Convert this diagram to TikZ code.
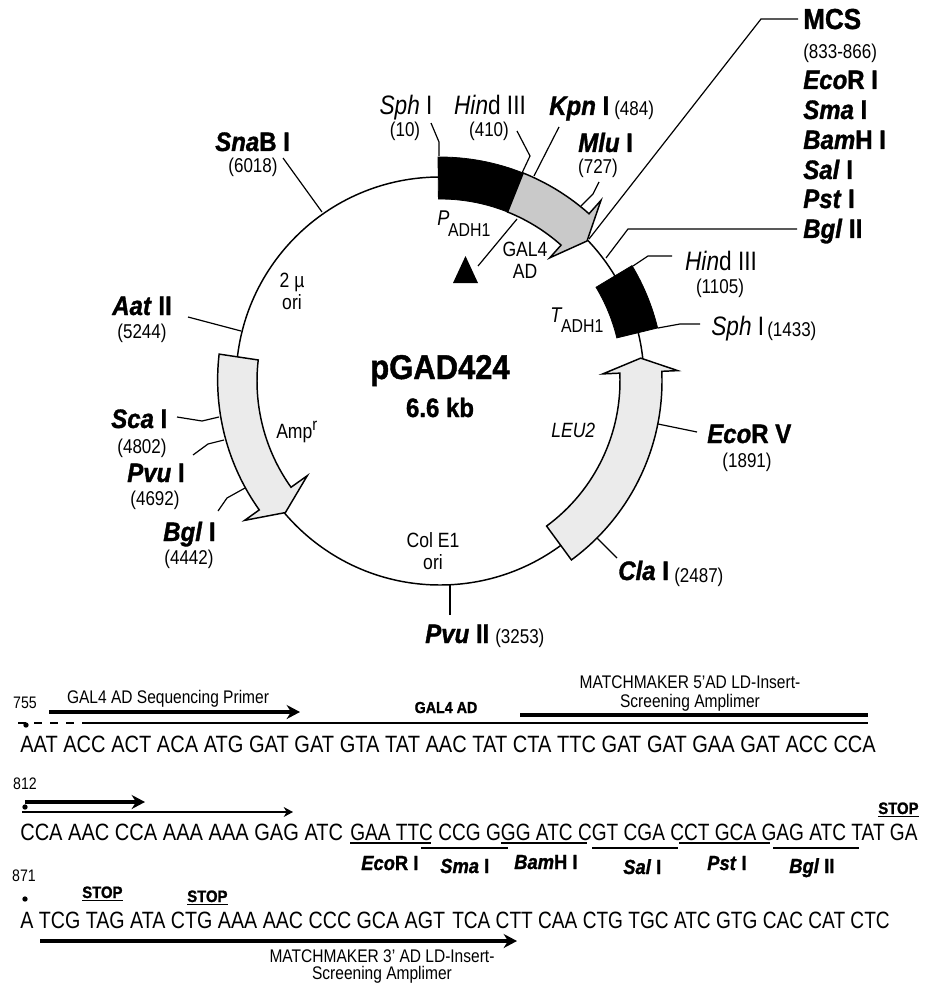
\documentclass[tikz,border=0pt]{standalone}
\usepackage{fontspec}
\setmainfont[FakeStretch=0.85,
  BoldFeatures={FakeStretch=0.9,FakeBold=1.2},
  BoldItalicFeatures={FakeStretch=0.9,FakeBold=1.2}]{Liberation Sans}
\usetikzlibrary{arrows.meta}
\definecolor{GalF}{HTML}{C9C9C9}
\definecolor{MarkF}{HTML}{EBEBEB}
\newcommand{\Ren}[2]{\textit{#1}#2}
\newcommand{\Drop}[2]{\kern-1pt\raisebox{#1}{\fontsize{14}{16}\selectfont #2}}
\tikzset{
  ring/.style={line width=1.1pt, draw=black},
  marker/.style={draw=black, fill=MarkF, line width=1.1pt, line join=miter},
  solidbk/.style={draw=black, fill=black, line width=0.6pt},
  leader/.style={line width=0.9pt, draw=black},
  site/.style={font=\fontsize{20}{22}\selectfont\bfseries, anchor=base west, inner sep=0pt},
  sitethin/.style={font=\fontsize{20}{22}\selectfont, anchor=base, inner sep=0pt},
  bpnum/.style={font=\fontsize{15}{17}\selectfont, anchor=base, inner sep=0pt},
  gene/.style={font=\fontsize{15.5}{17}\selectfont, anchor=base, inner sep=0pt},
  seq/.style={font=\fontsize{17.7}{20}\selectfont, anchor=base west, inner sep=0pt},
  cut/.style={font=\fontsize{15.3}{17}\selectfont\bfseries, anchor=base west, inner sep=0pt},
  stopm/.style={font=\fontsize{12.4}{14}\selectfont\bfseries, anchor=base west, inner sep=0pt},
  note/.style={font=\fontsize{13.7}{16}\selectfont, anchor=base, inner sep=0pt},
  bigarr/.style={-{Stealth[length=10pt,width=10.5pt]}, line width=2.3pt},
  thinarr/.style={-{Stealth[length=7pt,width=7.5pt]}, line width=0.9pt},
  dot/.style={circle, fill=black, minimum size=4pt, inner sep=0pt},
}
\begin{document}
\begin{tikzpicture}[x=0.75pt,y=-0.75pt]
  \useasboundingbox (0,0) rectangle (927,984);

  % ring and its markers
  \begin{scope}[shift={(440,381)},y=0.75pt]
    \draw[ring] (0,0) circle[radius=204];
    \draw[solidbk] (90.5:182) arc[start angle=90.5,end angle=68.2,radius=182]
      -- (68.2:224) arc[start angle=68.2,end angle=90.5,radius=224] -- cycle;
    \draw[ring,fill=GalF] (68.2:182) arc[start angle=68.2,end angle=48.3,radius=182]
      -- (48.3:165) -- (43.6:203) -- (48.3:242) -- (48.3:224)
      arc[start angle=48.3,end angle=68.2,radius=224] -- cycle;
    \draw[solidbk] (31:182) arc[start angle=31,end angle=13.7,radius=182]
      -- (13.7:224) arc[start angle=13.7,end angle=31,radius=224] -- cycle;
    \draw[marker] (-53.7:180) arc[start angle=-53.7,end angle=2.5,radius=180]
      -- (2.5:163) -- (6.5:202) -- (2.5:238) -- (2.5:222)
      arc[start angle=2.5,end angle=-53.7,radius=222] -- cycle;
    \draw[marker] (173.4:183) arc[start angle=173.4,end angle=215.5,radius=183]
      -- (215.5:163) -- (220.4:203) -- (215.5:240) -- (215.5:222)
      arc[start angle=215.5,end angle=173.4,radius=224] -- cycle;
  \end{scope}

  % leader ends
  \foreach \nm/\px/\py in {
      SphA/431/123, SphB/439/156, HinA/517/131, HinB/522/173, KpnA/559/127, KpnB/534/176,
      TriA/478/266, TriB/517/219, MluA/599/182, MluB/581/206, McsA/798/19, McsB/589/239,
      BglA/797/229, BglB/606/258, HinC/672/256, HinD/633/266, SphC/700/324, SphD/658/328,
      SnaA/283/158, SnaB/322/212, AatA/188/317, AatB/241/331, ScaA/177/417, ScaB/219/417,
      PvuA/193/455, PvuB/224/440, BglC/218/511, BglD/245/488, EcoA/697/432, EcoB/658/424,
      ClaA/617/558, ClaB/597/538, PvuC/450/615, PvuD/450/584}
    \coordinate (\nm) at (\px,\py);

  \draw[leader] (SphA) -- (439,142) -- (SphB);
  \draw[leader] (HinA) -- (530,156) -- (HinB);
  \draw[leader] (KpnA) -- (KpnB);
  \draw[leader] (TriA) -- (TriB);
  \draw[leader] (MluA) -- (593,194) -- (MluB);
  \draw[leader] (McsA) -- (761,19) -- (McsB);
  \draw[leader] (BglA) -- (628,229) -- (BglB);
  \draw[leader] (HinC) -- (648,256) -- (HinD);
  \draw[leader] (SphC) -- (680,324) -- (SphD);
  \draw[leader] (SnaA) -- (SnaB);
  \draw[leader] (AatA) -- (AatB);
  \draw[leader] (ScaA) -- (202,421) -- (ScaB);
  \draw[leader] (PvuA) -- (208,444) -- (PvuB);
  \draw[leader] (BglC) -- (227,498) -- (BglD);
  \draw[leader] (EcoA) -- (EcoB);
  \draw[leader] (ClaA) -- (ClaB);
  \draw[leader] (PvuC) -- (PvuD);

  \fill (465.5,256) coordinate (TriTop) -- (453,283) -- (478,283) -- cycle;

  % labels round the ring
  \node[sitethin] (SphI) at (406,115) {\Ren{Sph}{ I}};
  \node[bpnum] (SphIp) at (405,137) {(10)};
  \node[sitethin] (HinIII) at (490,115) {\Ren{Hin}{d III}};
  \node[bpnum] (HinIIIp) at (489,137) {(410)};
  \node[site] (KpnI) at (549,115) {\Ren{Kpn}{ I}};
  \node[bpnum,anchor=base west] (KpnIp) at (614,116) {(484)};
  \node[site] (MluI) at (578,152) {\Ren{Mlu}{ I}};
  \node[bpnum] (MluIp) at (598,174) {(727)};
  \node[site,font=\fontsize{21.7}{24}\selectfont\bfseries] (MCS) at (803,29) {MCS};
  \node[bpnum,anchor=base west] (MCSp) at (803,59) {(833-866)};
  \node[site] (EcoRI) at (803,89) {\Ren{Eco}{R I}};
  \node[site] (SmaI) at (803,119) {\Ren{Sma}{ I}};
  \node[site] (BamHI) at (803,149) {\Ren{Bam}{H I}};
  \node[site] (SalI) at (803,179) {\Ren{Sal}{ I}};
  \node[site] (PstI) at (803,208) {\Ren{Pst}{ I}};
  \node[site] (BglII) at (803,238) {\Ren{Bgl}{ II}};
  \node[sitethin] (HinIIIb) at (721,270) {\Ren{Hin}{d III}};
  \node[bpnum] (HinIIIbp) at (720,293) {(1105)};
  \node[sitethin,anchor=base west] (SphIb) at (711,335) {\Ren{Sph}{ I}};
  \node[bpnum,anchor=base west] (SphIbp) at (767,336) {(1433)};
  \node[site] (SnaBI) at (215,151) {\Ren{Sna}{B I}};
  \node[bpnum] (SnaBIp) at (253,173) {(6018)};
  \node[site] (AatII) at (112,315) {\Ren{Aat}{ II}};
  \node[bpnum] (AatIIp) at (142,338) {(5244)};
  \node[site] (ScaI) at (111,428) {\Ren{Sca}{ I}};
  \node[bpnum] (ScaIp) at (142,453) {(4802)};
  \node[site] (PvuI) at (127,482) {\Ren{Pvu}{ I}};
  \node[bpnum] (PvuIp) at (155,505) {(4692)};
  \node[site] (BglI) at (163,541) {\Ren{Bgl}{ I}};
  \node[bpnum] (BglIp) at (189,564) {(4442)};
  \node[site] (EcoRV) at (707,443) {\Ren{Eco}{R V}};
  \node[bpnum] (EcoRVp) at (747,467) {(1891)};
  \node[site] (ClaI) at (618,580) {\Ren{Cla}{ I}};
  \node[bpnum,anchor=base west] (ClaIp) at (674,582) {(2487)};
  \node[site] (PvuII) at (425,643) {\Ren{Pvu}{ II}};
  \node[bpnum,anchor=base west] (PvuIIp) at (495,643) {(3253)};

  \node[gene,font=\fontsize{16}{18}\selectfont,anchor=base west] (PADH) at (437,225) {\textit{P}\Drop{-9pt}{ADH1}};
  \node[gene] (GALa) at (525,257) {GAL4};
  \node[gene] (GALb) at (525,278) {AD};
  \node[gene,font=\fontsize{16}{18}\selectfont,anchor=base west] (TADH) at (550,322) {\textit{T}\Drop{-8pt}{ADH1}};
  \node[gene] (TwoMu) at (292,287) {2 µ};
  \node[gene] (TwoOri) at (292,309) {ori};
  \node[gene,anchor=base west] (Amp) at (276,438) {Amp\raisebox{6pt}{\fontsize{13}{15}\selectfont r}};
  \node[gene,anchor=base west] (LEU) at (551,437) {\textit{LEU2}};
  \node[gene] (ColE) at (433,547) {Col E1};
  \node[gene] (ColOri) at (433,569) {ori};
  \node[font=\fontsize{25.8}{28}\selectfont\bfseries,anchor=base,inner sep=0pt] (Name) at (440,379) {pGAD424};
  \node[font=\fontsize{20}{22}\selectfont\bfseries,anchor=base,inner sep=0pt] (Size) at (440,417) {6.6 kb};

  % first sequence row
  \node[note,font=\fontsize{12.5}{14}\selectfont] (Num755) at (25,708) {755};
  \node[note] (SeqPrimer) at (168,703) {GAL4 AD Sequencing Primer};
  \node[note,font=\fontsize{11.9}{14}\selectfont\bfseries] (GalAD) at (446,713) {GAL4 AD};
  \node[note] (MatchA) at (690,688) {MATCHMAKER 5'AD LD-Insert-};
  \node[note] (MatchB) at (690,707) {Screening Amplimer};
  \coordinate (PrimerS) at (49,712);
  \coordinate (PrimerE) at (300,712);
  \draw[bigarr] (PrimerS) -- (PrimerE);
  \coordinate (AmpS) at (520,715);
  \coordinate (AmpE) at (868,715);
  \draw[line width=2.3pt] (AmpS) -- (AmpE);
  \coordinate (FrameS) at (18,723);
  \coordinate (FrameM) at (83,723);
  \coordinate (FrameE) at (868,723);
  \draw[line width=0.9pt,dash pattern=on 6pt off 6pt] (FrameS) -- (FrameM);
  \draw[line width=0.9pt] (FrameM) -- (FrameE);
  \node[dot] (DotA) at (26,725) {};
  \node[seq] (RowA) at (20,752) {AAT ACC ACT ACA ATG GAT GAT GTA TAT AAC TAT CTA TTC GAT GAT GAA GAT ACC CCA};

  % second sequence row
  \node[note,font=\fontsize{12.5}{14}\selectfont] (Num812) at (25,789) {812};
  \coordinate (TwoS) at (25,802);
  \coordinate (TwoE) at (145,802);
  \draw[bigarr] (TwoS) -- (TwoE);
  \coordinate (OneS) at (22,812);
  \coordinate (OneE) at (293,812);
  \draw[thinarr] (OneS) -- (OneE);
  \node[dot] (DotB) at (25,807) {};
  \node[seq] (RowB) at (20,840) {CCA AAC CCA AAA AAA GAG ATC};
  \node[seq,xscale=0.952] (RowBb) at (350,840) {GAA TTC CCG GGG ATC CGT CGA CCT GCA GAG ATC TAT GA};
  \foreach \nm/\xa/\xb/\yy in {Eco/350/431/843, Sma/421/508/848, Bam/501/587/843, Sal/592/678/848, Pst/679/770/843, Bgl/773/859/848} {
    \coordinate (\nm L) at (\xa,\yy);
    \coordinate (\nm R) at (\xb,\yy);
    \draw[line width=0.8pt] (\nm L) -- (\nm R);
  }
  \node[cut] (CutEco) at (361,870) {\Ren{Eco}{R I}};
  \node[cut] (CutSma) at (440,873) {\Ren{Sma}{ I}};
  \node[cut] (CutBam) at (514,869) {\Ren{Bam}{H I}};
  \node[cut] (CutSal) at (623,874) {\Ren{Sal}{ I}};
  \node[cut] (CutPst) at (707,870) {\Ren{Pst}{ I}};
  \node[cut] (CutBgl) at (789,873) {\Ren{Bgl}{ II}};
  \node[stopm] (StopA) at (878,814) {\underline{STOP}};

  % third sequence row
  \node[note,font=\fontsize{12.5}{14}\selectfont] (Num871) at (24,881) {871};
  \node[dot] (DotC) at (25,899) {};
  \node[stopm] (StopB) at (82,898) {\underline{STOP}};
  \node[stopm] (StopC) at (187,902) {\underline{STOP}};
  \node[seq,xscale=0.98] (RowC) at (20,928) {A TCG TAG ATA CTG AAA AAC CCC GCA AGT};
  \node[seq,xscale=0.952] (RowCb) at (452,928) {TCA CTT CAA CTG TGC ATC GTG CAC CAT CTC};
  \coordinate (ThreeS) at (40,941);
  \coordinate (ThreeE) at (517,941);
  \draw[bigarr] (ThreeS) -- (ThreeE);
  \node[note] (MatchC) at (382,962) {MATCHMAKER 3' AD LD-Insert-};
  \node[note] (MatchD) at (382,979) {Screening Amplimer};
\end{tikzpicture}
\end{document}
